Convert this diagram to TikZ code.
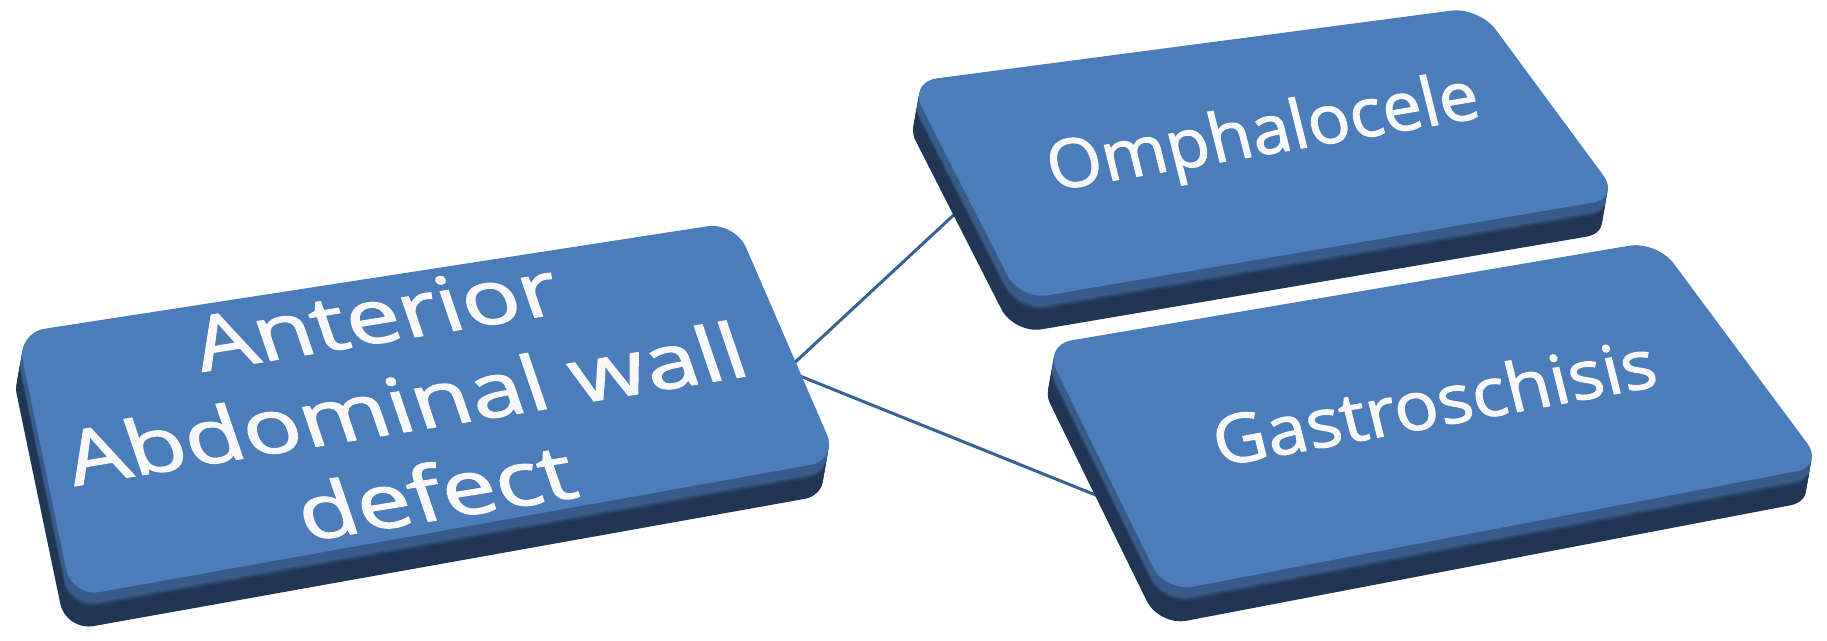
\documentclass[tikz,border=0pt]{standalone}
\usepackage{fontspec}
\newfontfamily\lblfont{Open Sans}[FakeBold=1.5]
\definecolor{facecol}{RGB}{74,125,185}
\definecolor{bevelcol}{RGB}{56,92,138}
\definecolor{basecol}{RGB}{33,53,84}
\definecolor{linecol}{RGB}{58,97,148}
\definecolor{txtcol}{RGB}{248,248,248}
\newcommand\slab[4]{%
  \foreach \dy in {34,32,...,2}{%
    \pgfmathtruncatemacro\mixv{max(0,min(100,(15-\dy)*20))}%
    \pgfmathsetmacro\dx{-\dy*6/34}%
    \fill[bevelcol!\mixv!basecol, rounded corners=28pt, shift={(\dx,\dy)}] #1 -- #2 -- #3 -- #4 -- cycle;
  }%
  \fill[facecol, rounded corners=28pt] #1 -- #2 -- #3 -- #4 -- cycle;
}
\tikzset{
  conn/.style={draw=linecol, line width=3pt},
  lbl/.style={text=txtcol, inner sep=0pt, transform shape, align=center}
}
\begin{document}
\begin{tikzpicture}[x=1pt,y=-1pt]
\useasboundingbox (0,0) rectangle (1827,640);
% connectors
\coordinate (L1) at (790,367);
\coordinate (L2) at (795,374);
\coordinate (O1) at (958,211);
\coordinate (G1) at (1108,500);
\draw[conn] (L1) -- (O1);
\draw[conn] (L2) -- (G1);
% boxes
\slab{(17,333)}{(735,222)}{(838,460)}{(72,597)}
\slab{(909,82)}{(1479,7)}{(1620,198)}{(1020,300)}
\slab{(1044,345)}{(1657,241)}{(1824,466)}{(1165,592)}
% labels
\node[lbl, font=\lblfont\fontsize{86}{104}\selectfont, cm={1.1,0.18,-0.29,0.85,(0,0)}] (L) at (405,404) {Anterior\\Abdominal wall\\defect};
\node[lbl, anchor=base, font=\lblfont\fontsize{66}{74}\selectfont, cm={1.05,0.18,-0.25,1.0,(0,0)}] (O) at (1268,154) {Omphalocele};
\node[lbl, anchor=base, font=\lblfont\fontsize{66}{74}\selectfont, cm={1.09,0.2,-0.25,1.0,(0,0)}] (G) at (1440,426) {Gastroschisis};
\end{tikzpicture}
\end{document}
